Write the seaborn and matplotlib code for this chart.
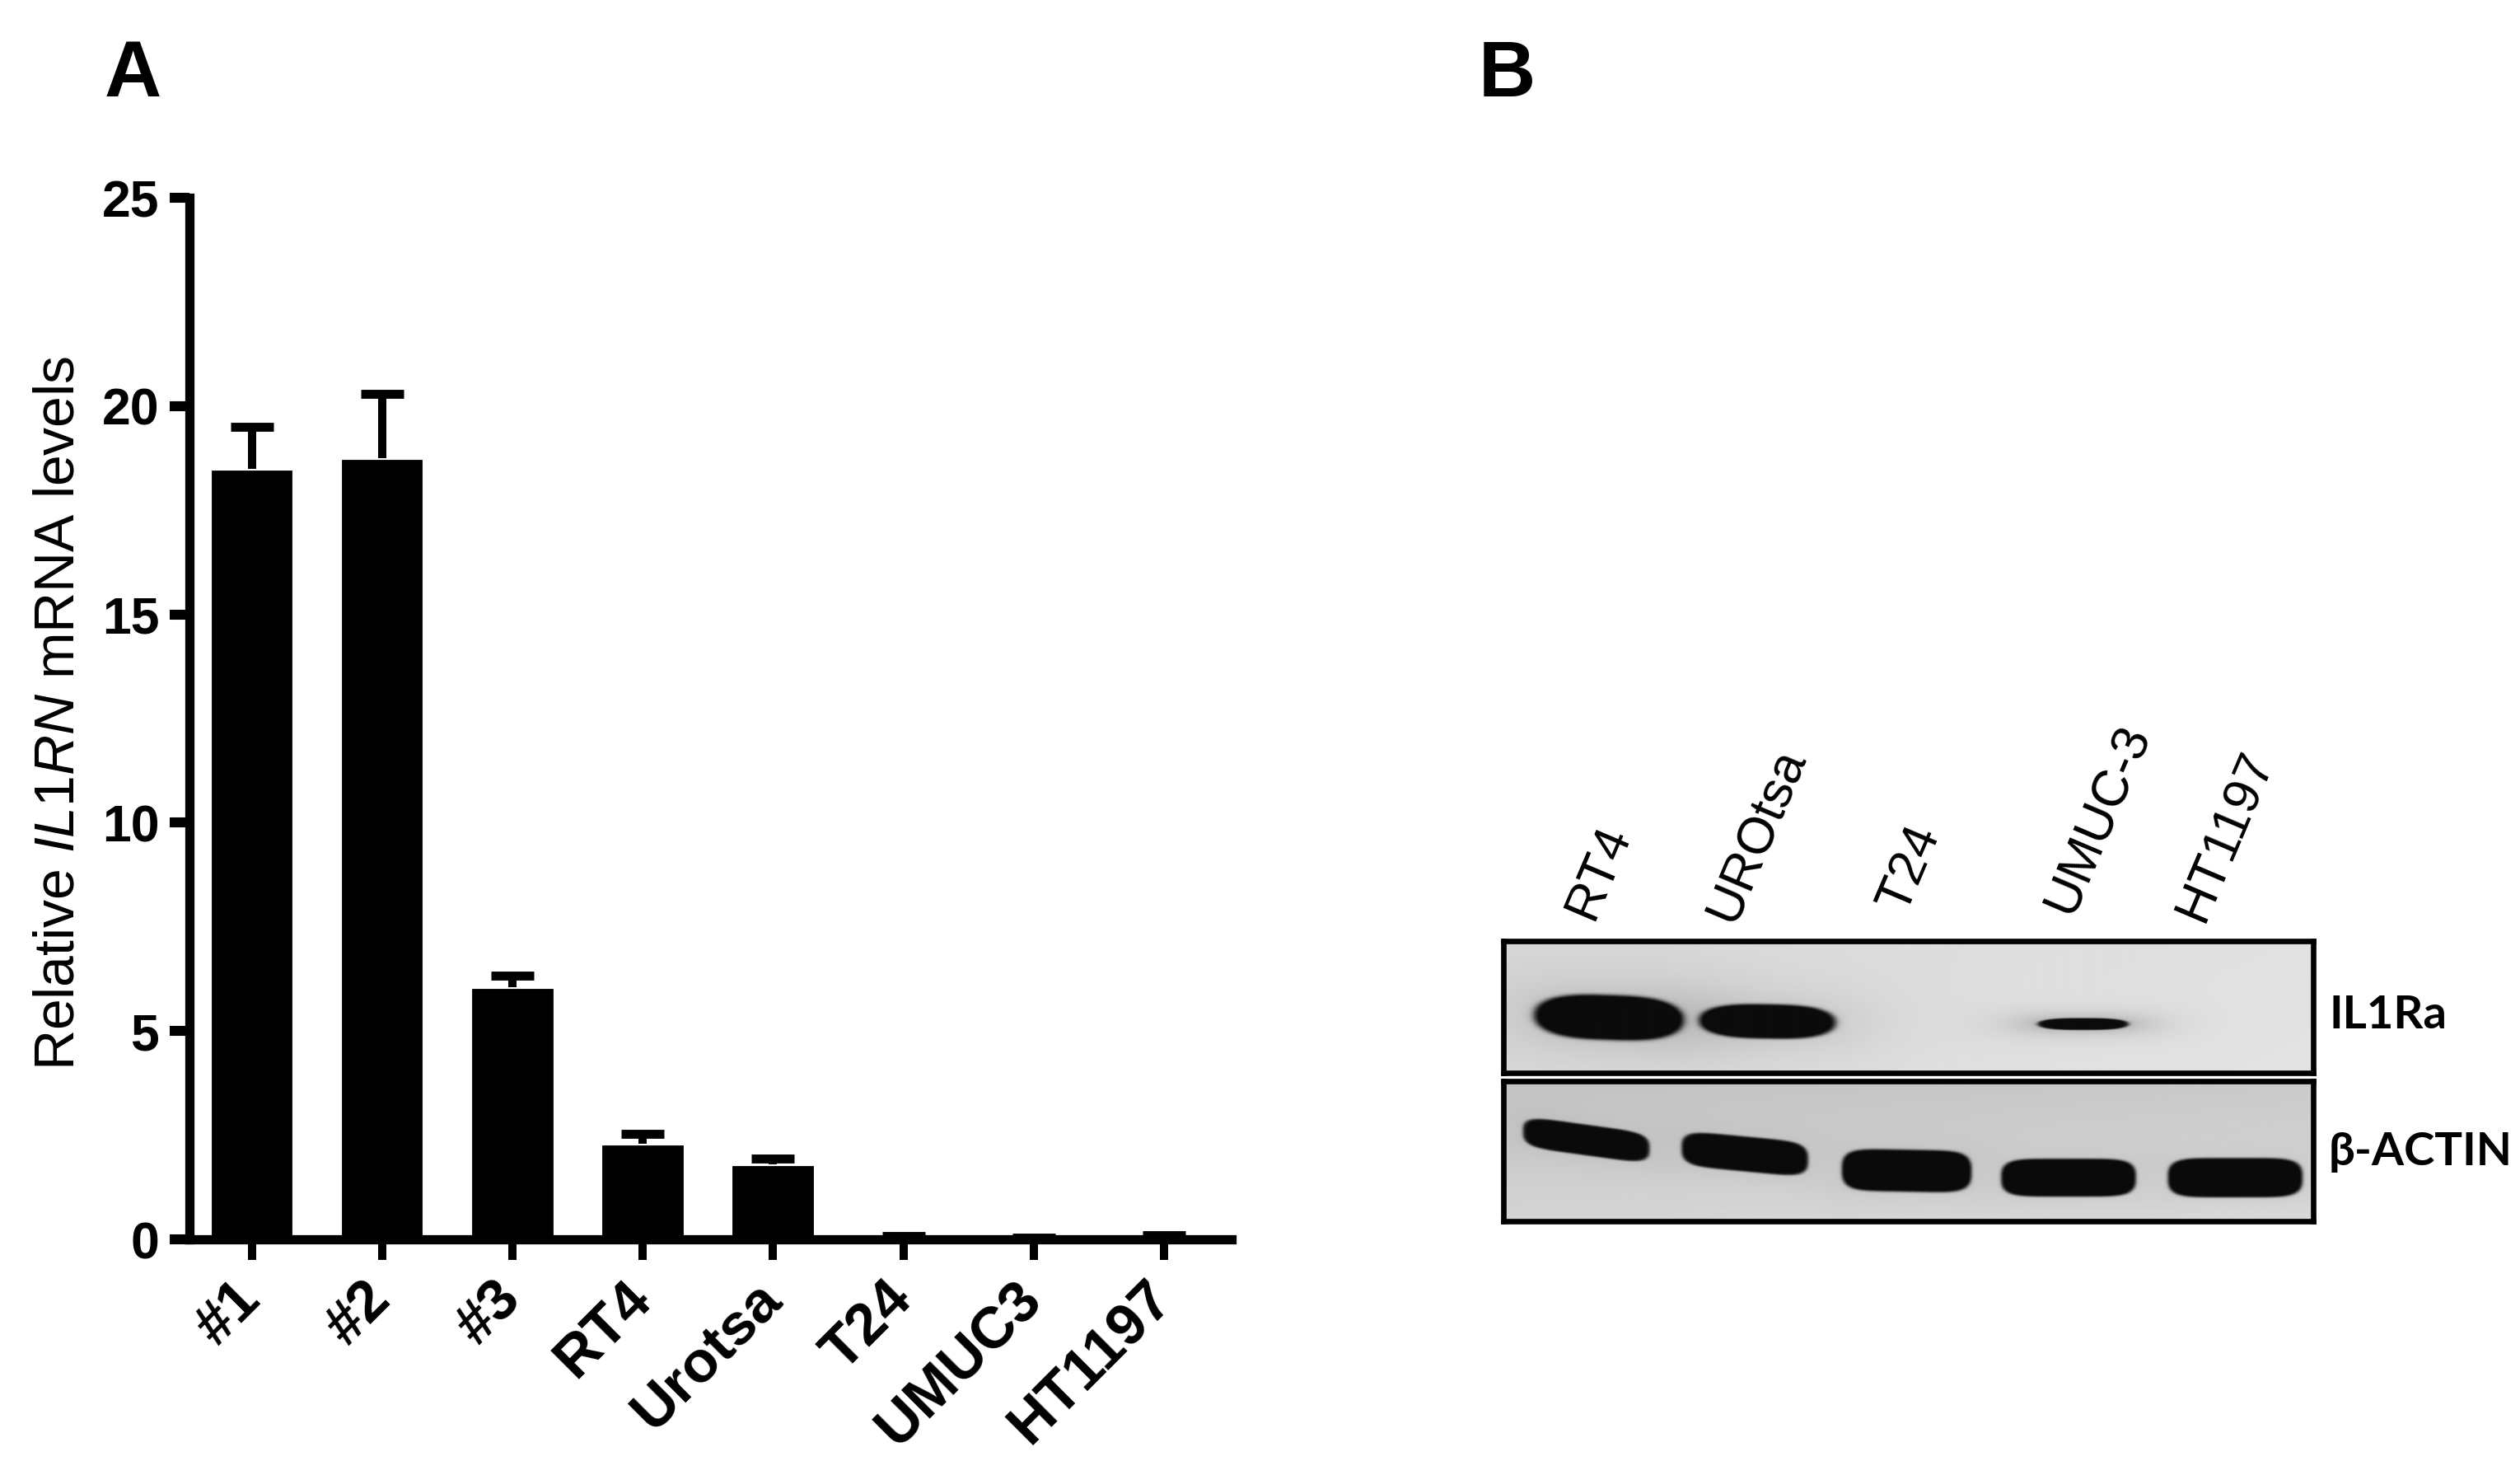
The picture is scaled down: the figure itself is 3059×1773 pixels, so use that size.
import numpy as np
import pandas as pd
import matplotlib
matplotlib.use("Agg")
import matplotlib.pyplot as plt
import seaborn as sns

# ---------------- data ----------------
categories = ["#1", "#2", "#3", "RT4", "Urotsa", "T24", "UMUC3", "HT1197"]
mrna_mean = [18.5, 18.75, 6.05, 2.3, 1.8, 0.05, 0.02, 0.06]
mrna_err = [1.0, 1.55, 0.28, 0.24, 0.13, 0.03, 0.01, 0.04]
y_ticks = [0, 5, 10, 15, 20, 25]

blot_lanes = ["RT4", "UROtsa", "T24", "UMUC-3", "HT1197"]
blot_rows = ["IL1Ra", "\u03b2-ACTIN"]
il1ra_signal = [1.0, 0.97, 0.0, 0.8, 0.0]
actin_signal = [0.93, 0.95, 1.0, 1.0, 1.0]

# ---------------- style / geometry ----------------
W, H = 3059, 1773
DPI = 300
sns.set_theme(style="ticks")
plt.rcParams["font.family"] = ["Liberation Sans", "DejaVu Sans"]
plt.rcParams["mathtext.fontset"] = "custom"
plt.rcParams["mathtext.rm"] = "Liberation Sans"
plt.rcParams["mathtext.it"] = "Liberation Sans:italic"
for k in ["text.color", "axes.labelcolor", "xtick.color", "ytick.color",
          "xtick.labelcolor", "ytick.labelcolor", "axes.edgecolor"]:
    plt.rcParams[k] = "black"

fig = plt.figure(figsize=(W / DPI, H / DPI), dpi=DPI)
fig.patch.set_facecolor("white")


def fx(px):
    return px / W


def fy(py):
    return 1 - py / H


# ---------------- panel A ----------------
axA = fig.add_axes([fx(230), fy(1504), fx(1495 - 230), (1504 - 240) / H])
df = pd.DataFrame({"cat": categories, "val": mrna_mean})
sns.barplot(data=df, x="cat", y="val", color="black", saturation=1,
            width=0.65, errorbar=None, ax=axA, zorder=2)
eb = axA.errorbar(np.arange(len(categories)), mrna_mean,
                  yerr=[np.zeros(len(categories)), mrna_err], fmt="none",
                  ecolor="black", elinewidth=2.4, capsize=6.3, capthick=2.6, zorder=3)
for cl in eb[1]:
    if np.allclose(cl.get_ydata(), mrna_mean):
        cl.set_visible(False)
axA.set_ylim(0, 25)
axA.set_xlim(-0.48, 7.52)
axA.set_yticks(y_ticks)
axA.set_yticklabels([str(t) for t in y_ticks], fontsize=15, fontweight="bold")
axA.set_xticks(np.arange(len(categories)))
axA.set_xticklabels(categories, rotation=45, ha="right", va="center",
                    rotation_mode="anchor", fontsize=17, fontweight="bold")
axA.set_xlabel("")
axA.set_ylabel("Relative $\\mathit{IL1RN}$ mRNA levels", fontsize=16.3)
axA.yaxis.set_label_coords(-0.10, 0.505)
for s in ["top", "right"]:
    axA.spines[s].set_visible(False)
for s in ["left", "bottom"]:
    axA.spines[s].set_linewidth(2.7)
    axA.spines[s].set_color("black")
    axA.spines[s].set_capstyle("projecting")
axA.tick_params(axis="y", length=5.8, width=2.9, pad=3)
axA.tick_params(axis="x", length=6, width=2.4, pad=9)
axA.set_facecolor("white")

# ---------------- panel B (blot) ----------------
il1ra_xoff = [0.15, 0.13, 0.0, 0.08, 0.0]
il1ra_w = [0.92, 0.84, 0.6, 0.56, 0.6]
il1ra_yc = [0.58, 0.61, 0.6, 0.63, 0.6]
il1ra_h = [0.34, 0.26, 0.12, 0.09, 0.12]
il1ra_slope = [0.04, 0.02, 0.0, 0.0, 0.0]
il1ra_halo = [0.2, 0.16, 0.0, 0.35, 0.0]

actin_xoff = [0.01, -0.01, -0.01, -0.01, 0.02]
actin_w = [0.78, 0.78, 0.80, 0.83, 0.83]
actin_yc = [0.42, 0.52, 0.64, 0.69, 0.69]
actin_h = [0.22, 0.25, 0.30, 0.27, 0.28]
actin_slope = [0.16, 0.11, 0.02, 0.0, 0.0]
actin_halo = [0.08, 0.08, 0.08, 0.08, 0.08]


def blot_image(ax, signal, xoff, widths, yc, heights, slopes, halos,
               bg_top, bg_bottom, px, py):
    nx, ny = 1400, 260
    xs = np.linspace(-0.5, 4.5, nx)
    ys = np.linspace(0, 1, ny)
    X, Y = np.meshgrid(xs, ys)
    base = bg_top + (bg_bottom - bg_top) * Y + 0.03 * (X + 0.5) / 5.0
    dark = np.zeros_like(X)
    for i, s in enumerate(signal):
        if s <= 0:
            continue
        cx = i + xoff[i]
        a = widths[i] / 2
        b = heights[i] / 2
        cy = yc[i] + slopes[i] * (X - cx)
        d = np.abs((X - cx) / a) ** px + np.abs((Y - cy) / b) ** py
        core = 1.0 / (1.0 + np.exp((d - 1.0) / 0.1))
        halo = np.exp(-np.sqrt(d) / 1.3)
        dark += s * core + halos[i] * halo
    img = base * (1 - np.clip(dark, 0, 0.95))
    ax.imshow(img, cmap="gray", vmin=0, vmax=1, extent=(-0.5, 4.5, 1, 0),
              aspect="auto", interpolation="bilinear")
    ax.set_xlim(-0.5, 4.5)
    ax.set_ylim(1, 0)
    ax.set_xticks([])
    ax.set_yticks([])
    for s in ax.spines.values():
        s.set_visible(True)
        s.set_linewidth(1.6)
        s.set_color("black")


axB1 = fig.add_axes([fx(1825), fy(1302), fx(2808 - 1825), (1302 - 1142) / H])
blot_image(axB1, il1ra_signal, il1ra_xoff, il1ra_w, il1ra_yc, il1ra_h,
           il1ra_slope, il1ra_halo, 0.85, 0.86, 3, 2.2)
axB2 = fig.add_axes([fx(1825), fy(1482), fx(2808 - 1825), (1482 - 1312) / H])
blot_image(axB2, actin_signal, actin_xoff, actin_w, actin_yc, actin_h,
           actin_slope, actin_halo, 0.76, 0.83, 6, 3)

lane_label_xoff = [0.05, -0.08, -0.02, 0.01, -0.18]
lane_label_y = [-0.15, -0.12, -0.2, -0.18, -0.13]
for i, lab in enumerate(blot_lanes):
    axB1.text(i + lane_label_xoff[i], lane_label_y[i], lab, rotation=67,
              rotation_mode="anchor", ha="left", va="baseline",
              fontsize=15, color="black", clip_on=False)

fig.text(fx(2827), fy(1232), blot_rows[0], fontsize=13.5, fontweight="bold",
         family=["Lato", "DejaVu Sans"], ha="left", va="center")
fig.text(fx(2827), fy(1398), blot_rows[1], fontsize=13.5, fontweight="bold",
         family=["Lato", "DejaVu Sans"], ha="left", va="center")

# panel letters
fig.text(fx(127), fy(117), "A", fontsize=23, fontweight="bold", ha="left", va="baseline")
fig.text(fx(1795), fy(117), "B", fontsize=23, fontweight="bold", ha="left", va="baseline")

fig.savefig("out.png", dpi=DPI, facecolor="white")
